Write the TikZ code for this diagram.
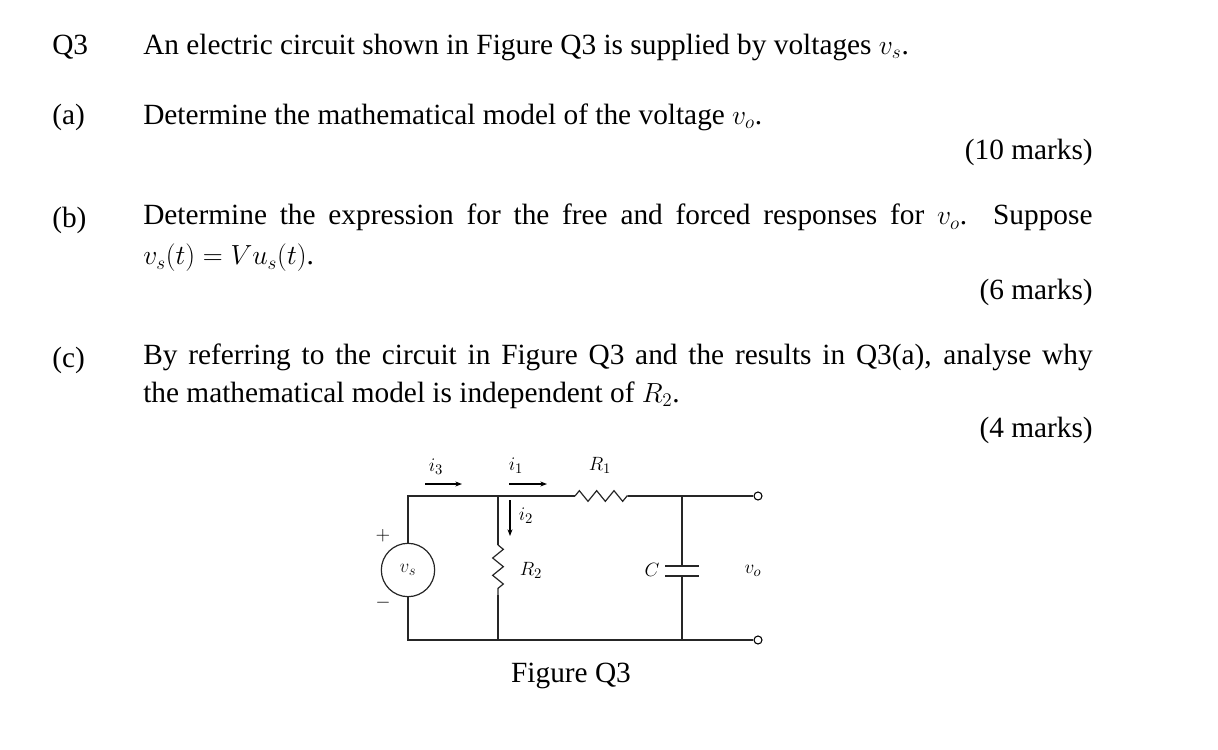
\documentclass[tikz,border=0pt]{standalone}
\usepackage{fontspec}
\setmainfont{Liberation Serif}
\usetikzlibrary{arrows.meta, positioning, calc, decorations.pathmorphing}

\begin{document}
\begin{tikzpicture}[
    x=0.75pt, y=-0.75pt,
    txt/.style={anchor=west, inner sep=0pt, font=\fontsize{22}{31}\selectfont},
    para/.style={txt, text width=712pt, align=justify},
    marks/.style={anchor=east, inner sep=0pt, font=\fontsize{22}{31}\selectfont},
    lbl/.style={inner sep=0pt, font=\fontsize{15}{17}\selectfont},
    wire/.style={line width=0.9pt, black!85},
    res/.style={wire, decorate, decoration={zigzag, segment length=13pt, amplitude=4pt}},
    curr/.style={-{Stealth[length=5pt]}, line width=0.8pt}
]
    \useasboundingbox (0,0) rectangle (1218,750);

    % question text
    \node[txt] (q3) at (52,47) {Q3};
    \node[txt] (intro) at (143,47) {An electric circuit shown in Figure Q3 is supplied by voltages $v_s$.};
    \node[txt] (qa) at (52,117) {(a)};
    \node[txt] (ta) at (143,117) {Determine the mathematical model of the voltage $v_o$.};
    \node[marks] (ma) at (1093,152) {(10 marks)};
    \node[txt] (qb) at (52,220) {(b)};
    \node[para, anchor=north west, font=\fontsize{22}{30}\selectfont] (tb) at (143,204) {Determine the expression for the free and forced responses for $v_o$. Suppose\linebreak $v_s(t)=Vu_s(t)$.};
    \node[marks] (mb) at (1093,292) {(6 marks)};
    \node[txt] (qc) at (52,360) {(c)};
    \node[para, anchor=north west, font=\fontsize{22}{28}\selectfont] (tc) at (143,344) {By referring to the circuit in Figure Q3 and the results in Q3(a), analyse why\linebreak the mathematical model is independent of $R_2$.};
    \node[marks] (mc) at (1093,430) {(4 marks)};

    % circuit
    \coordinate (tl) at (408,496);
    \coordinate (bl) at (408,640);
    \coordinate (n1) at (498,496);
    \coordinate (n1b) at (498,640);
    \coordinate (r1a) at (575,496);
    \coordinate (r1b) at (628,496);
    \coordinate (n2) at (682,496);
    \coordinate (n2b) at (682,640);
    \coordinate (r2a) at (498,545);
    \coordinate (r2b) at (498,595);
    \coordinate (ctop) at (682,566);
    \coordinate (cbot) at (682,576);
    \node[circle, draw, wire, minimum size=40pt, inner sep=0pt, lbl] (src) at (408,570) {$v_s$};
    \node[circle, draw, line width=0.8pt, inner sep=0pt, minimum size=6pt] (ot) at (758,496) {};
    \node[circle, draw, line width=0.8pt, inner sep=0pt, minimum size=6pt] (ob) at (758,640) {};

    \draw[wire] (src.north) -- (tl) -- (r1a);
    \draw[res] (r1a) -- (r1b);
    \draw[wire] (r1b) -- (ot.west);
    \draw[wire] (src.south) -- (bl) -- (ob.west);
    \draw[wire] (n1) -- (r2a);
    \draw[res] (r2a) -- (r2b);
    \draw[wire] (r2b) -- (n1b);
    \draw[wire] (n2) -- (ctop);
    \draw[wire] (cbot) -- (n2b);
    \draw[wire] ($(ctop)+(-17,0)$) -- ($(ctop)+(17,0)$);
    \draw[wire] ($(cbot)+(-17,0)$) -- ($(cbot)+(17,0)$);

    % labels and currents
    \coordinate (i3a) at (425,484);
    \coordinate (i3b) at (462,484);
    \coordinate (i1a) at (509,484);
    \coordinate (i1b) at (547,484);
    \coordinate (i2a) at (510,500);
    \coordinate (i2b) at (510,536);
    \draw[curr] (i3a) -- (i3b);
    \draw[curr] (i1a) -- (i1b);
    \draw[curr] (i2a) -- (i2b);
    \node[lbl] (li3) at (436,467) {$i_3$};
    \node[lbl] (li1) at (516,466) {$i_1$};
    \node[lbl] (li2) at (526,516) {$i_2$};
    \node[lbl] (lr1) at (600,465) {$R_1$};
    \node[lbl] (lr2) at (531,570) {$R_2$};
    \node[lbl] (lc) at (652,570) {$C$};
    \node[lbl] (lvo) at (753,571) {$v_o$};
    \node[lbl] (lp) at (383,536) {$+$};
    \node[lbl] (lm) at (383,603) {$-$};

    \node[txt, anchor=center] (cap) at (571,676) {Figure Q3};
\end{tikzpicture}
\end{document}
